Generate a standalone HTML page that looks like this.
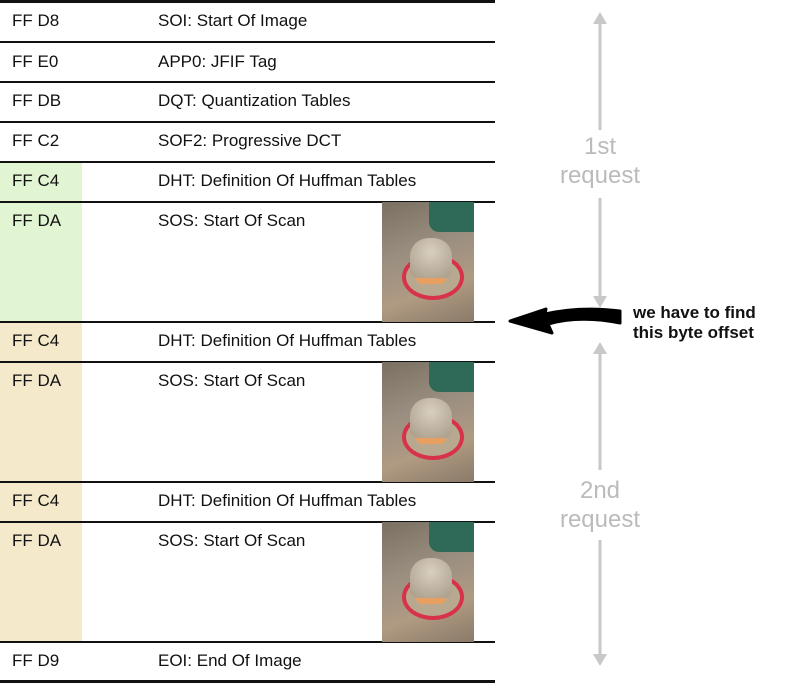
<!DOCTYPE html>
<html><head><style>
body{margin:0;width:800px;height:683px;background:#fff;position:relative;overflow:hidden;font-family:"Comic Sans MS","Liberation Sans",sans-serif;}
.l{position:absolute;left:0;width:495px;height:2px;background:#111;}
.t{position:absolute;font-size:17px;color:#111;white-space:nowrap;}
.img{position:absolute;left:382px;width:92px;height:120px;overflow:hidden;background:linear-gradient(160deg,#7a7062 0%,#9a8f80 40%,#b09a82 70%,#8a7a68 100%);}
.img .g{position:absolute;right:0;top:0;width:45px;height:30px;background:#2f6a58;border-bottom-left-radius:10px;}
.img .p{position:absolute;left:20px;top:52px;width:62px;height:46px;border-radius:50%;border:4px solid #d8324a;box-sizing:border-box;background:#b8a890;}
.img .m{position:absolute;left:28px;top:36px;width:42px;height:40px;border-radius:45% 45% 20% 20%;background:radial-gradient(circle at 50% 35%,#d8d0c0,#a89a88);}
.img .c{position:absolute;left:34px;top:62px;width:30px;height:20px;background:#e8a060;border-radius:0 0 6px 6px;}
.gt{position:absolute;color:#bbb;font-size:24px;text-align:center;width:120px;left:540px;line-height:29px;}
</style></head><body>
<div style="position:absolute;left:0;top:162px;width:82px;height:160px;background:#e2f5d2"></div>
<div style="position:absolute;left:0;top:322px;width:82px;height:320px;background:#f5e9cb"></div>
<div class="l" style="top:0px;height:3px"></div>
<div class="l" style="top:41px"></div>
<div class="l" style="top:81px"></div>
<div class="l" style="top:121px"></div>
<div class="l" style="top:161px"></div>
<div class="l" style="top:201px"></div>
<div class="l" style="top:321px"></div>
<div class="l" style="top:361px"></div>
<div class="l" style="top:481px"></div>
<div class="l" style="top:521px"></div>
<div class="l" style="top:641px"></div>
<div class="l" style="top:680px;height:3px"></div>

<div class="t" style="left:12px;top:11px">FF D8</div><div class="t" style="left:158px;top:11px">SOI: Start Of Image</div>
<div class="t" style="left:12px;top:52px">FF E0</div><div class="t" style="left:158px;top:52px">APP0: JFIF Tag</div>
<div class="t" style="left:12px;top:91px">FF DB</div><div class="t" style="left:158px;top:91px">DQT: Quantization Tables</div>
<div class="t" style="left:12px;top:131px">FF C2</div><div class="t" style="left:158px;top:131px">SOF2: Progressive DCT</div>
<div class="t" style="left:12px;top:171px">FF C4</div><div class="t" style="left:158px;top:171px">DHT: Definition Of Huffman Tables</div>
<div class="t" style="left:12px;top:211px">FF DA</div><div class="t" style="left:158px;top:211px">SOS: Start Of Scan</div>
<div class="t" style="left:12px;top:331px">FF C4</div><div class="t" style="left:158px;top:331px">DHT: Definition Of Huffman Tables</div>
<div class="t" style="left:12px;top:371px">FF DA</div><div class="t" style="left:158px;top:371px">SOS: Start Of Scan</div>
<div class="t" style="left:12px;top:491px">FF C4</div><div class="t" style="left:158px;top:491px">DHT: Definition Of Huffman Tables</div>
<div class="t" style="left:12px;top:531px">FF DA</div><div class="t" style="left:158px;top:531px">SOS: Start Of Scan</div>
<div class="t" style="left:12px;top:651px">FF D9</div><div class="t" style="left:158px;top:651px">EOI: End Of Image</div>

<div class="img" style="top:202px"><div class="g"></div><div class="p"></div><div class="c"></div><div class="m"></div></div>
<div class="img" style="top:362px"><div class="g"></div><div class="p"></div><div class="c"></div><div class="m"></div></div>
<div class="img" style="top:522px"><div class="g"></div><div class="p"></div><div class="c"></div><div class="m"></div></div>

<svg style="position:absolute;left:0;top:0" width="800" height="683">
<g stroke="#c8c8c8" stroke-width="3" fill="#c8c8c8">
<line x1="600" y1="22" x2="600" y2="130"/><line x1="600" y1="198" x2="600" y2="298"/>
<polygon points="593,24 600,12 607,24" stroke="none"/><polygon points="593,296 600,308 607,296" stroke="none"/>
<line x1="600" y1="352" x2="600" y2="470"/><line x1="600" y1="540" x2="600" y2="655"/>
<polygon points="593,354 600,342 607,354" stroke="none"/><polygon points="593,654 600,666 607,654" stroke="none"/>
</g>
<path d="M620,323 Q580,315 548,324 L552,333 L510,321 L546,309 L545,314 Q580,306 620,311 Z" fill="#000" stroke="#000" stroke-width="3" stroke-linejoin="round"/>
</svg>
<div class="gt" style="top:132px">1st<br>request</div>
<div class="gt" style="top:476px">2nd<br>request</div>
<div class="t" style="left:633px;top:303px;font-size:17px;line-height:20px;font-weight:bold">we have to find<br>this byte offset</div>
</body></html>
